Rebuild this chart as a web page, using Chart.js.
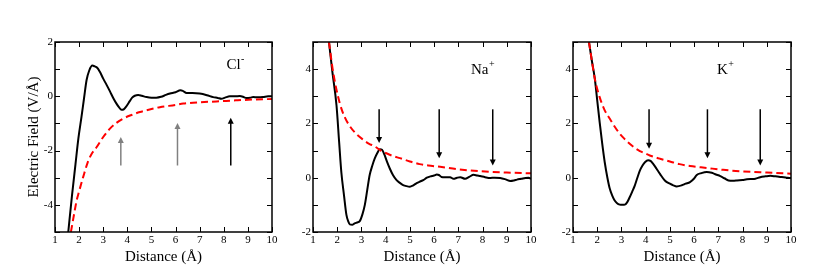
<!DOCTYPE html>
<html>
<head>
<meta charset="utf-8">
<script src="https://cdn.jsdelivr.net/npm/chart.js@4/dist/chart.umd.min.js"></script>
<style>
  body { margin: 0; background: #fff; }
  #wrap { position: relative; width: 817px; height: 273px; }
  canvas { position: absolute; top: 0; }
</style>
</head>
<body>
<div id="wrap">
  <canvas id="clChart" width="290" height="273" style="left:0px"></canvas>
  <canvas id="naChart" width="270" height="273" style="left:280px"></canvas>
  <canvas id="kChart" width="270" height="273" style="left:547px"></canvas>
</div>
<script>
// Cl- : simulated field (black) and bare ion field (red dashed)
const clX = [1.55,1.7,1.85,1.97,2.1,2.2,2.31,2.42,2.55,2.65,2.75,2.86,3.0,3.14,3.28,3.42,3.55,3.65,3.76,3.85,3.95,4.1,4.2,4.31,4.45,4.6,4.8,5.0,5.2,5.4,5.6,5.77,6.0,6.2,6.3,6.46,6.7,7.0,7.3,7.56,7.75,7.9,8.05,8.25,8.45,8.67,8.8,8.94,9.1,9.22,9.4,9.63,9.84,10];
const clY = [-5.0,-3.7,-2.5,-1.55,-0.75,-0.1,0.6,0.95,1.13,1.1,1.05,0.9,0.65,0.42,0.18,-0.07,-0.27,-0.4,-0.5,-0.48,-0.38,-0.18,-0.05,0.02,0.05,0.02,-0.03,-0.05,-0.05,-0.02,0.05,0.1,0.15,0.22,0.2,0.12,0.12,0.1,0.04,-0.03,-0.06,-0.09,-0.05,0.0,0.0,0.01,-0.02,-0.06,-0.05,-0.03,-0.04,-0.03,0.0,0.0];
const clRedX = [1.66,1.8,1.9,2.0,2.17,2.35,2.5,2.73,3.0,3.28,3.55,3.83,4.2,4.52,5.0,5.35,6.0,6.32,7.0,7.7,8.5,9.2,10];
const clRedY = [-5.0,-4.3,-3.83,-3.5,-2.97,-2.45,-2.15,-1.87,-1.5,-1.19,-0.98,-0.82,-0.68,-0.58,-0.47,-0.4,-0.32,-0.27,-0.22,-0.19,-0.15,-0.12,-0.1];
const clArrowX = [3.73, 6.08, 8.29];
const clArrowFrom = [-2.55, -2.55, -2.55];
const clArrowTo = [-1.5, -0.98, -0.79];

// Na+
const naX = [1.66,1.8,1.97,2.08,2.17,2.28,2.38,2.46,2.52,2.62,2.72,2.82,2.93,3.04,3.14,3.24,3.34,3.45,3.55,3.65,3.76,3.85,3.95,4.05,4.17,4.3,4.45,4.6,4.72,4.86,5.0,5.14,5.28,5.42,5.55,5.7,5.85,6.0,6.11,6.2,6.3,6.45,6.66,6.8,6.95,7.08,7.28,7.45,7.63,7.78,7.9,8.1,8.32,8.5,8.73,8.95,9.15,9.3,9.42,9.6,9.77,9.9,10];
const naY = [5.0,3.9,2.67,1.3,0.2,-0.65,-1.37,-1.62,-1.72,-1.73,-1.68,-1.65,-1.6,-1.35,-1.0,-0.45,0.1,0.45,0.71,0.9,1.05,1.03,0.85,0.6,0.34,0.1,-0.09,-0.2,-0.27,-0.31,-0.33,-0.28,-0.2,-0.14,-0.09,0.0,0.05,0.08,0.12,0.1,0.03,0.02,0.02,-0.04,0.0,0.02,-0.04,0.03,0.11,0.08,0.06,0.02,-0.01,0.0,-0.01,-0.06,-0.12,-0.1,-0.07,-0.04,-0.01,0.0,-0.04];
const naRedX = [1.66,1.83,2.1,2.3,2.52,2.8,3.07,3.3,3.55,3.8,4.03,4.3,4.59,5.0,5.4,5.76,6.25,7.0,7.9,9.0,10];
const naRedY = [5.0,3.9,2.76,2.25,1.9,1.6,1.4,1.26,1.15,1.0,0.9,0.8,0.72,0.6,0.5,0.45,0.4,0.31,0.24,0.19,0.16];
const naArrowX = [3.73, 6.21, 8.42];
const naArrowFrom = [2.52, 2.52, 2.52];
const naArrowTo = [1.28, 0.72, 0.45];

// K+
const kX = [1.66,1.78,1.9,2.0,2.1,2.2,2.31,2.42,2.52,2.62,2.72,2.82,2.93,3.04,3.14,3.24,3.34,3.45,3.55,3.65,3.76,3.87,3.97,4.1,4.2,4.31,4.45,4.59,4.79,5.0,5.14,5.28,5.49,5.65,5.83,6.0,6.11,6.3,6.52,6.73,6.9,7.08,7.25,7.42,7.6,7.77,8.0,8.18,8.35,8.53,8.73,8.95,9.15,9.36,9.55,9.7,9.85,10];
const kY = [5.0,4.3,3.65,2.85,2.05,1.3,0.57,0.0,-0.41,-0.66,-0.84,-0.94,-0.99,-1.0,-0.99,-0.9,-0.72,-0.5,-0.29,-0.02,0.26,0.45,0.57,0.64,0.62,0.51,0.33,0.14,-0.1,-0.22,-0.28,-0.32,-0.28,-0.22,-0.16,-0.03,0.1,0.17,0.21,0.18,0.12,0.06,-0.02,-0.1,-0.11,-0.1,-0.08,-0.06,-0.05,-0.04,0.02,0.05,0.07,0.05,0.03,0.02,0.0,-0.01];
const kRedX = [1.66,1.78,1.9,2.1,2.3,2.52,2.73,2.93,3.14,3.34,3.55,3.76,3.97,4.17,4.4,4.59,5.0,5.4,5.83,6.52,7.2,7.9,9.0,10];
const kRedY = [5.0,4.3,3.65,2.97,2.5,2.17,1.87,1.62,1.42,1.25,1.1,0.98,0.9,0.82,0.75,0.7,0.6,0.5,0.43,0.36,0.29,0.24,0.19,0.15];
const kArrowX = [4.14, 6.55, 8.73];
const kArrowFrom = [2.52, 2.52, 2.52];
const kArrowTo = [1.07, 0.72, 0.45];

const xTicks = [1, 2, 3, 4, 5, 6, 7, 8, 9, 10];

const FONT = "'Liberation Serif', 'Times New Roman', serif";

function pts(xs, ys) {
    return xs.map((x, i) => ({ x: x, y: ys[i] }));
}

// frame, inward ticks on all sides, arrows and ion label
const decorPlugin = {
    id: 'decor',
    afterDatasetsDraw(chart) {
        const { ctx, chartArea: a, scales: { x, y } } = chart;
        const d = chart.options.plugins.decor;
        ctx.save();
        ctx.strokeStyle = '#000';
        ctx.lineWidth = 1;
        const tl = 5;
        ctx.beginPath();
        x.ticks.forEach(t => {
            const px = Math.round(x.getPixelForValue(t.value)) + 0.5;
            ctx.moveTo(px, a.bottom); ctx.lineTo(px, a.bottom - tl);
            ctx.moveTo(px, a.top); ctx.lineTo(px, a.top + tl);
        });
        y.ticks.forEach(t => {
            const py = Math.round(y.getPixelForValue(t.value)) + 0.5;
            ctx.moveTo(a.left, py); ctx.lineTo(a.left + tl, py);
            ctx.moveTo(a.right, py); ctx.lineTo(a.right - tl, py);
        });
        ctx.stroke();
        ctx.lineWidth = 1.5;
        ctx.strokeRect(a.left, a.top, a.width, a.height);

        // arrows
        d.arrowX.forEach((ax, i) => {
            const px = x.getPixelForValue(ax);
            const p0 = y.getPixelForValue(d.arrowFrom[i]);
            const p1 = y.getPixelForValue(d.arrowTo[i]);
            const dir = p1 > p0 ? 1 : -1;
            ctx.strokeStyle = d.arrowColors[i];
            ctx.fillStyle = d.arrowColors[i];
            ctx.lineWidth = 1.5;
            ctx.beginPath();
            ctx.moveTo(px, p0);
            ctx.lineTo(px, p1 - dir * 5);
            ctx.stroke();
            ctx.beginPath();
            ctx.moveTo(px, p1);
            ctx.lineTo(px - 3, p1 - dir * 6);
            ctx.lineTo(px + 3, p1 - dir * 6);
            ctx.closePath();
            ctx.fill();
        });

        // ion label with superscript
        const lx = x.getPixelForValue(d.labelX);
        const ly = y.getPixelForValue(d.labelY);
        ctx.fillStyle = '#000';
        ctx.font = '15px ' + FONT;
        ctx.textBaseline = 'alphabetic';
        ctx.fillText(d.label, lx, ly);
        const w = ctx.measureText(d.label).width;
        ctx.font = '10px ' + FONT;
        ctx.fillText(d.sup, lx + w + 0.5, ly - 7);
        ctx.restore();
    }
};

function makeChart(id, cfg) {
    return new Chart(document.getElementById(id), {
        type: 'line',
        data: {
            datasets: [
                {
                    data: pts(cfg.redX, cfg.redY),
                    borderColor: '#ff0000',
                    borderWidth: 2,
                    borderDash: [7, 4],
                    pointRadius: 0,
                    fill: false,
                    cubicInterpolationMode: 'monotone'
                },
                {
                    data: pts(cfg.blackX, cfg.blackY),
                    borderColor: '#000',
                    borderWidth: 2,
                    pointRadius: 0,
                    fill: false,
                    cubicInterpolationMode: 'monotone'
                }
            ]
        },
        plugins: [decorPlugin],
        options: {
            responsive: false,
            animation: false,
            devicePixelRatio: 1,
            layout: { padding: cfg.padding },
            plugins: {
                legend: { display: false },
                tooltip: { enabled: false },
                decor: {
                    arrowX: cfg.arrowX,
                    arrowFrom: cfg.arrowFrom,
                    arrowTo: cfg.arrowTo,
                    arrowColors: cfg.arrowColors,
                    label: cfg.label,
                    sup: cfg.sup,
                    labelX: cfg.labelX,
                    labelY: cfg.labelY
                }
            },
            scales: {
                x: {
                    type: 'linear',
                    min: 1,
                    max: 10,
                    afterBuildTicks: s => { s.ticks = xTicks.map(v => ({ value: v })); },
                    afterFit: s => { s.height = 36; },
                    grid: { display: false, drawTicks: false },
                    border: { display: false },
                    ticks: { autoSkip: false, maxRotation: 0, padding: 2, color: '#000', font: { family: FONT, size: 11 } },
                    title: { display: true, text: 'Distance (Å)', color: '#000', font: { family: FONT, size: 15 }, padding: { top: 0, bottom: 2 } }
                },
                y: {
                    min: cfg.yMin,
                    max: cfg.yMax,
                    afterFit: s => { s.width = cfg.yWidth; },
                    grid: { display: false, drawTicks: false },
                    border: { display: false },
                    ticks: {
                        stepSize: 1,
                        padding: 2,
                        color: '#000',
                        font: { family: FONT, size: 11 },
                        callback: v => (v % 2 === 0 ? v : '')
                    },
                    title: { display: !!cfg.yTitle, text: cfg.yTitle || '', color: '#000', font: { family: FONT, size: 15 }, padding: { top: 6, bottom: 0 } }
                }
            }
        }
    });
}

makeChart('clChart', {
    blackX: clX, blackY: clY, redX: clRedX, redY: clRedY,
    arrowX: clArrowX, arrowFrom: clArrowFrom, arrowTo: clArrowTo,
    arrowColors: ['#808080', '#808080', '#000'],
    label: 'Cl', sup: '-', labelX: 8.11, labelY: 1.02,
    yMin: -5, yMax: 2, yTitle: 'Electric Field (V/Å)', yWidth: 36,
    padding: { left: 19, right: 18, top: 42, bottom: 5 }
});

makeChart('naChart', {
    blackX: naX, blackY: naY, redX: naRedX, redY: naRedY,
    arrowX: naArrowX, arrowFrom: naArrowFrom, arrowTo: naArrowTo,
    arrowColors: ['#000', '#000', '#000'],
    label: 'Na', sup: '+', labelX: 7.52, labelY: 3.83,
    yMin: -2, yMax: 5, yWidth: 33,
    padding: { left: 0, right: 19, top: 42, bottom: 5 }
});

makeChart('kChart', {
    blackX: kX, blackY: kY, redX: kRedX, redY: kRedY,
    arrowX: kArrowX, arrowFrom: kArrowFrom, arrowTo: kArrowTo,
    arrowColors: ['#000', '#000', '#000'],
    label: 'K', sup: '+', labelX: 6.94, labelY: 3.83,
    yMin: -2, yMax: 5, yWidth: 26,
    padding: { left: 0, right: 26, top: 42, bottom: 5 }
});
</script>
</body>
</html>
